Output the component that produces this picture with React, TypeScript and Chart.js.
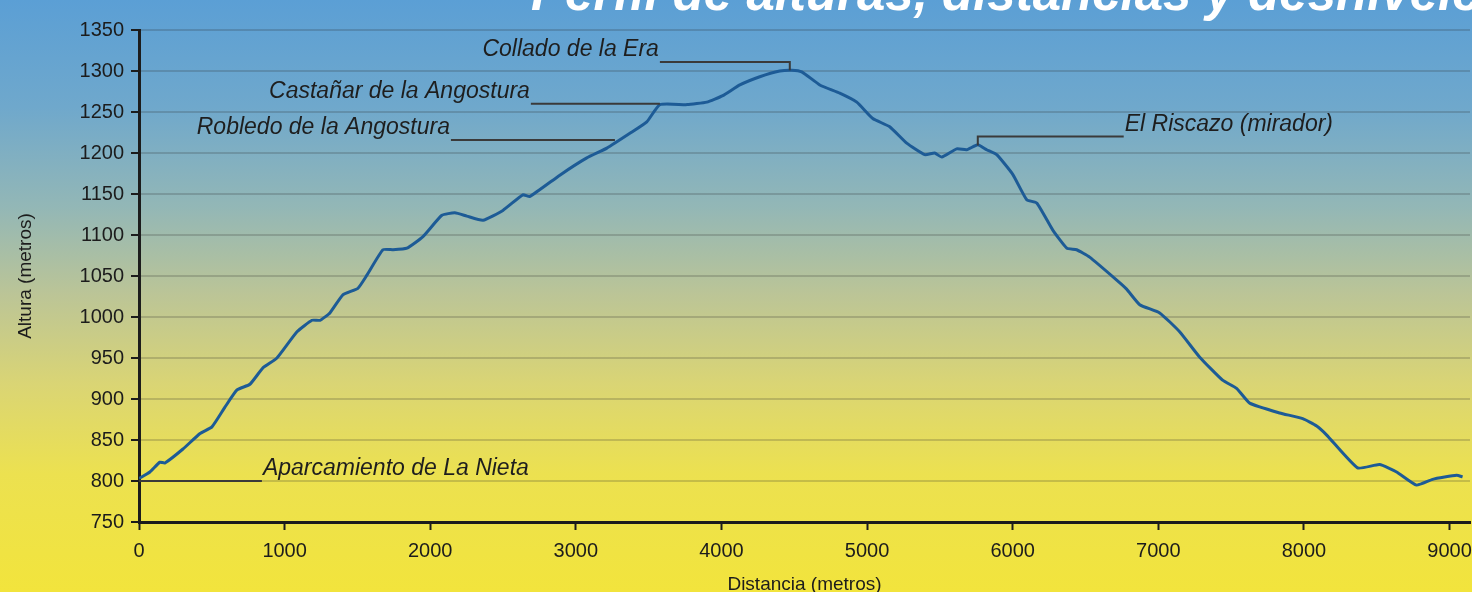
import React, { useEffect, useRef } from 'react';
import { Chart, registerables } from 'chart.js';

Chart.register(...registerables);

// Elevation profile (distance in metres, altitude in metres)
const distances = [
  0, 75, 144, 178, 302, 419, 501, 590, 673, 762, 851, 947, 1085, 1188, 1243, 1311,
  1400, 1503, 1565, 1675, 1744, 1840, 1950, 2080, 2169, 2251, 2362, 2499, 2636, 2684,
  2890, 3075, 3213, 3371, 3487, 3577, 3762, 3899, 4009, 4126, 4263, 4400, 4483, 4551,
  4675, 4812, 4929, 5039, 5155, 5272, 5396, 5464, 5512, 5615, 5684, 5760, 5821, 5890,
  6000, 6096, 6165, 6275, 6371, 6439, 6528, 6714, 6782, 6872, 7009, 7146, 7284, 7441,
  7537, 7627, 7833, 7991, 8087, 8156, 8368, 8519, 8636, 8773, 8883, 9048, 9089,
];
const altitudes = [
  803, 811, 823, 822, 839, 858, 866, 890, 911, 918, 938, 950, 982, 996, 996, 1005,
  1027, 1035, 1051, 1082, 1082, 1084, 1098, 1124, 1127, 1123, 1118, 1130, 1149, 1147,
  1173, 1194, 1206, 1224, 1238, 1259, 1259, 1262, 1270, 1283, 1293, 1300, 1301, 1299,
  1283, 1273, 1262, 1242, 1232, 1212, 1198, 1200, 1195, 1205, 1204, 1210, 1204, 1198,
  1174, 1143, 1139, 1106, 1084, 1082, 1073, 1045, 1034, 1015, 1005, 982, 951, 923,
  913, 895, 883, 876, 867, 856, 816, 820, 811, 795, 802, 807, 805,
];

const xTicks = [0, 1000, 2000, 3000, 4000, 5000, 6000, 7000, 8000, 9000];
const yTicks = [750, 800, 850, 900, 950, 1000, 1050, 1100, 1150, 1200, 1250, 1300, 1350];

const titleText = 'Perfil de alturas, distancias y desniveles';
const xTitle = 'Distancia (metros)';
const yTitle = 'Altura (metros)';

// Place-name annotations (data coordinates)
const annotationTexts = [
  'Aparcamiento de La Nieta',
  'Robledo de la Angostura',
  'Castañar de la Angostura',
  'Collado de la Era',
  'El Riscazo (mirador)',
];
const annotationPointX = [0, 3268, 3577, 4469, 5760];
const annotationPointY = [800, 1216, 1260, 1301, 1209];
const annotationElbowY = [800, 1216, 1260, 1311, 1220];
const annotationLabelX = [844, 2142, 2691, 3577, 6762];
const annotationAlign: CanvasTextAlign[] = ['left', 'right', 'right', 'right', 'left'];

const AXIS_COLOR = '#1c1c1c';
const FONT = '"Liberation Sans", Arial, sans-serif';

const backgroundPlugin = {
  id: 'gradientBackground',
  beforeDraw(chart: any) {
    const { ctx, width, height } = chart;
    const g = ctx.createLinearGradient(0, 0, 0, height);
    g.addColorStop(0, '#5b9fd5');
    g.addColorStop(0.18, '#6fa8cc');
    g.addColorStop(0.35, '#93b7b6');
    g.addColorStop(0.5, '#bcc596');
    g.addColorStop(0.65, '#dad574');
    g.addColorStop(0.8, '#ece150');
    g.addColorStop(1, '#f2e43c');
    ctx.save();
    ctx.fillStyle = g;
    ctx.fillRect(0, 0, width, height);
    ctx.restore();
  },
};

const annotationPlugin = {
  id: 'placeAnnotations',
  afterDraw(chart: any) {
    const { ctx } = chart;
    const xs = chart.scales.x;
    const ys = chart.scales.y;
    ctx.save();
    for (let i = 0; i < annotationTexts.length; i++) {
      const px = xs.getPixelForValue(annotationPointX[i]);
      const py = ys.getPixelForValue(annotationPointY[i]);
      const ey = ys.getPixelForValue(annotationElbowY[i]);
      const lx = xs.getPixelForValue(annotationLabelX[i]);
      ctx.strokeStyle = '#3a3a3a';
      ctx.lineWidth = 2;
      ctx.beginPath();
      ctx.moveTo(px, py);
      ctx.lineTo(px, ey);
      ctx.lineTo(lx, ey);
      ctx.stroke();
      ctx.font = 'italic 23px ' + FONT;
      ctx.fillStyle = '#1e1e1e';
      ctx.textAlign = annotationAlign[i];
      ctx.textBaseline = 'alphabetic';
      ctx.fillText(annotationTexts[i], lx + (annotationAlign[i] === 'left' ? 1 : -1), ey - 6);
    }
    // Page title (cut by the top edge in the reference)
    ctx.font = 'bold italic 51px ' + FONT;
    ctx.fillStyle = '#ffffff';
    ctx.textAlign = 'left';
    ctx.textBaseline = 'alphabetic';
    ctx.fillText(titleText, 531, 10);
    ctx.restore();
  },
};

export default function App() {
  const canvasRef = useRef<HTMLCanvasElement | null>(null);

  useEffect(() => {
    document.body.style.margin = '0';
    document.body.style.overflow = 'hidden';
    const canvas = canvasRef.current;
    if (!canvas) return;
    const points = distances.map((d, i) => ({ x: d, y: altitudes[i] }));
    const chart = new Chart(canvas, {
      type: 'line',
      data: {
        datasets: [
          {
            data: points,
            borderColor: '#1d5b96',
            borderWidth: 3,
            pointRadius: 0,
            tension: 0.15,
            fill: false,
          },
        ],
      },
      options: {
        responsive: false,
        animation: false,
        events: [],
        layout: { padding: { top: 30, right: 2, left: 0, bottom: 0 } },
        plugins: {
          legend: { display: false },
          title: { display: false },
          tooltip: { enabled: false },
        },
        scales: {
          x: {
            type: 'linear',
            min: 0,
            max: 9140,
            afterBuildTicks: (scale: any) => {
              scale.ticks = xTicks.map((v) => ({ value: v }));
            },
            afterFit: (scale: any) => {
              scale.height = 70;
              scale.paddingRight = 0;
              scale.paddingLeft = 0;
            },
            ticks: {
              color: AXIS_COLOR,
              font: { family: FONT, size: 20 },
              padding: 9,
              maxRotation: 0,
              autoSkip: false,
              callback: (v: any) => String(v),
            },
            grid: {
              drawOnChartArea: false,
              drawTicks: true,
              tickLength: 8,
              tickColor: AXIS_COLOR,
              tickWidth: 2,
            },
            border: { display: true, color: AXIS_COLOR, width: 3 },
            title: {
              display: true,
              text: xTitle,
              color: AXIS_COLOR,
              font: { family: FONT, size: 19 },
              padding: { top: 0, bottom: -4 },
            },
          },
          y: {
            type: 'linear',
            min: 750,
            max: 1350,
            afterBuildTicks: (scale: any) => {
              scale.ticks = yTicks.map((v) => ({ value: v }));
            },
            afterFit: (scale: any) => {
              scale.width = 139;
            },
            ticks: {
              color: AXIS_COLOR,
              font: { family: FONT, size: 20 },
              padding: 7,
              autoSkip: false,
              callback: (v: any) => String(v),
            },
            grid: {
              color: 'rgba(40,40,40,0.2)',
              lineWidth: 2,
              drawTicks: true,
              tickLength: 8,
              tickColor: AXIS_COLOR,
              tickWidth: 2,
            },
            border: { display: true, color: AXIS_COLOR, width: 3 },
            title: {
              display: true,
              text: yTitle,
              color: AXIS_COLOR,
              font: { family: FONT, size: 19 },
              padding: { top: 14, bottom: 0 },
            },
          },
        },
      },
      plugins: [backgroundPlugin, annotationPlugin],
    });
    return () => {
      chart.destroy();
    };
  }, []);

  return (
    <div style={{ width: 1472, height: 592 }}>
      <canvas ref={canvasRef} width={1472} height={592} />
    </div>
  );
}
